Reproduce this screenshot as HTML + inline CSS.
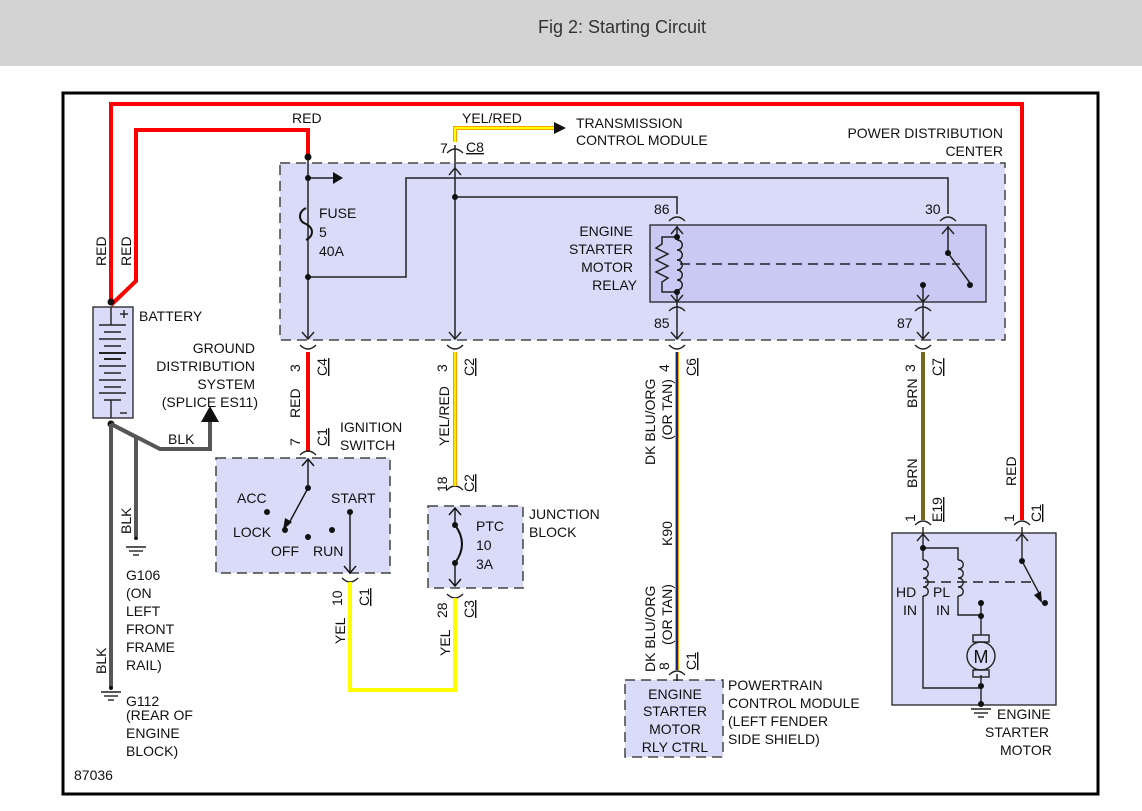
<!DOCTYPE html>
<html><head><meta charset="utf-8"><style>
body{margin:0;background:#fff;}
svg{display:block;font-family:"Liberation Sans",Arial,sans-serif;}
text{font-size:14px;fill:#111;}
</style></head><body>
<svg width="1142" height="811" viewBox="0 0 1142 811">
<rect x="0" y="0" width="1142" height="66" fill="#d3d3d3"/>
<text x="622" y="33" text-anchor="middle" style="font-size:18px;fill:#333">Fig 2: Starting Circuit</text>
<rect x="63" y="93" width="1035" height="701" fill="#fff" stroke="#000" stroke-width="3"/>

<!-- PDC -->
<rect x="280" y="163" width="725" height="177" fill="#dadaf9" stroke="#444" stroke-width="1.5" stroke-dasharray="10,6"/>
<rect x="650" y="225" width="336" height="77" fill="#c9c9f4" stroke="#222" stroke-width="1.3"/>
<text x="1003" y="138" text-anchor="end">POWER DISTRIBUTION</text>
<text x="1003" y="156" text-anchor="end">CENTER</text>

<!-- red wires -->
<g fill="none" stroke="#f00" stroke-width="4">
<polyline points="111,305 111,104 1022,104 1022,520"/>
<polyline points="111,305 136,281 136,130 308,130 308,157"/>
<line x1="308" y1="352" x2="308" y2="452"/>
</g>
<text x="292" y="123">RED</text>
<text transform="translate(106,266) rotate(-90)">RED</text>
<text transform="translate(131,266) rotate(-90)">RED</text>

<!-- YEL/RED top -->
<polyline points="455,142 455,128 554,128" fill="none" stroke="#f6a000" stroke-width="4"/>
<polyline points="455,142 455,128 554,128" fill="none" stroke="#ff0" stroke-width="2"/>
<path d="M554,122 L566,128 L554,134z" fill="#111"/>
<text x="462" y="123">YEL/RED</text>
<text x="576" y="128">TRANSMISSION</text>
<text x="576" y="145">CONTROL MODULE</text>
<text x="440" y="153">7</text>
<text x="466" y="152" style="text-decoration:underline">C8</text>

<!-- internal PDC lines -->
<g fill="none" stroke="#222" stroke-width="1.5">
<line x1="308" y1="157" x2="308" y2="338"/>
<line x1="308" y1="178" x2="333" y2="178"/>
<polyline points="308,277 406,277 406,178 948,178 948,214"/>
<line x1="455" y1="145" x2="455" y2="338"/>
<polyline points="455,197 677,197 677,214"/>
<line x1="677" y1="226" x2="677" y2="240"/>
<line x1="677" y1="290" x2="677" y2="338"/>
<line x1="923" y1="285" x2="923" y2="338"/>
<line x1="948" y1="226" x2="948" y2="253"/>
<line x1="948" y1="253" x2="970" y2="283"/>
<line x1="680" y1="264" x2="960" y2="264" stroke-dasharray="10,6"/>
<path d="M677,240 c7,0 7,10 0,10 c7,0 7,10 0,10 c7,0 7,10 0,10 c7,0 7,10 0,10 c7,0 7,10 0,10"/>
<polyline points="677,237 662,237 662,244 656,248 668,254 656,260 668,266 656,272 668,278 662,282 662,292 677,292"/>
</g>
<path d="M333,172 L343,178 L333,184z" fill="#111"/>
<path d="M306,208 c-8,4 -8,13 0,16 c8,4 8,12 0,16" fill="none" stroke="#111" stroke-width="2"/>
<g fill="#111">
<circle cx="308" cy="157" r="3.5"/><circle cx="308" cy="178" r="3"/><circle cx="308" cy="277" r="3"/>
<circle cx="455" cy="197" r="3"/><circle cx="677" cy="237" r="3"/><circle cx="677" cy="292" r="3"/>
<circle cx="948" cy="253" r="3"/><circle cx="970" cy="285" r="3"/><circle cx="923" cy="285" r="3"/>
</g>
<text x="319" y="218">FUSE</text><text x="319" y="237">5</text><text x="319" y="256">40A</text>
<text x="633" y="236" text-anchor="end">ENGINE</text>
<text x="633" y="254" text-anchor="end">STARTER</text>
<text x="633" y="272" text-anchor="end">MOTOR</text>
<text x="637" y="290" text-anchor="end">RELAY</text>
<text x="654" y="214">86</text><text x="925" y="214">30</text>
<text x="654" y="328">85</text><text x="897" y="328">87</text>

<!-- connector arcs / arrowheads -->
<g fill="none" stroke="#222" stroke-width="1.4">
<path d="M447,153 q8,-8 16,0"/>
<path d="M669,221 q8,-8 16,0"/><path d="M940,221 q8,-8 16,0"/>
<path d="M669,311 q8,-8 16,0"/><path d="M915,311 q8,-8 16,0"/>
<path d="M300,345 q8,8 16,0"/><path d="M447,345 q8,8 16,0"/><path d="M669,345 q8,8 16,0"/><path d="M915,345 q8,8 16,0"/>
<path d="M300,455 q8,-8 16,0"/><path d="M447,490 q8,-8 16,0"/>
<path d="M342,578 q8,8 16,0"/><path d="M447,594 q8,8 16,0"/>
<path d="M669,675 q8,-8 16,0"/>
<path d="M915,525 q8,-8 16,0"/><path d="M1014,525 q8,-8 16,0"/>
<path d="M302,332 l6,7 l6,-7"/><path d="M449,332 l6,7 l6,-7"/><path d="M671,332 l6,7 l6,-7"/><path d="M917,332 l6,7 l6,-7"/>
<path d="M449,175 l6,-7 l6,7"/><path d="M671,234 l6,-7 l6,7"/><path d="M942,234 l6,-7 l6,7"/>
<path d="M671,295 l6,7 l6,-7"/><path d="M917,295 l6,7 l6,-7"/>
</g>

<!-- lower wires -->
<line x1="455" y1="352" x2="455" y2="486" stroke="#f6a000" stroke-width="4"/>
<line x1="455" y1="352" x2="455" y2="486" stroke="#ff0" stroke-width="1.5"/>
<polyline points="350,582 350,690 455,690 455,598" fill="none" stroke="#ff0" stroke-width="4"/>
<line x1="677" y1="352" x2="677" y2="670" stroke="#f6a000" stroke-width="4"/>
<line x1="677" y1="352" x2="677" y2="670" stroke="#1a237e" stroke-width="2"/>
<line x1="923" y1="352" x2="923" y2="520" stroke="#7a6a2a" stroke-width="4"/>
<line x1="923" y1="352" x2="923" y2="520" stroke="#6b6b10" stroke-width="1.5"/>

<!-- connector labels -->
<text transform="translate(300,372) rotate(-90)">3</text>
<text transform="translate(327,376) rotate(-90)" style="text-decoration:underline">C4</text>
<text transform="translate(300,418) rotate(-90)">RED</text>
<text transform="translate(300,446) rotate(-90)">7</text>
<text transform="translate(327,446) rotate(-90)" style="text-decoration:underline">C1</text>
<text transform="translate(447,372) rotate(-90)">3</text>
<text transform="translate(474,376) rotate(-90)" style="text-decoration:underline">C2</text>
<text transform="translate(449,446) rotate(-90)">YEL/RED</text>
<text transform="translate(447,492) rotate(-90)">18</text>
<text transform="translate(474,492) rotate(-90)" style="text-decoration:underline">C2</text>
<text transform="translate(669,372) rotate(-90)">4</text>
<text transform="translate(696,376) rotate(-90)" style="text-decoration:underline">C6</text>
<text transform="translate(655,465) rotate(-90)">DK BLU/ORG</text>
<text transform="translate(672,440) rotate(-90)">(OR TAN)</text>
<text transform="translate(672,546) rotate(-90)">K90</text>
<text transform="translate(655,672) rotate(-90)">DK BLU/ORG</text>
<text transform="translate(672,645) rotate(-90)">(OR TAN)</text>
<text transform="translate(669,670) rotate(-90)">8</text>
<text transform="translate(696,670) rotate(-90)" style="text-decoration:underline">C1</text>
<text transform="translate(915,372) rotate(-90)">3</text>
<text transform="translate(942,376) rotate(-90)" style="text-decoration:underline">C7</text>
<text transform="translate(917,408) rotate(-90)">BRN</text>
<text transform="translate(917,488) rotate(-90)">BRN</text>
<text transform="translate(915,522) rotate(-90)">1</text>
<text transform="translate(942,522) rotate(-90)" style="text-decoration:underline">E19</text>
<text transform="translate(1016,486) rotate(-90)">RED</text>
<text transform="translate(1014,522) rotate(-90)">1</text>
<text transform="translate(1041,522) rotate(-90)" style="text-decoration:underline">C1</text>
<text transform="translate(342,606) rotate(-90)">10</text>
<text transform="translate(369,606) rotate(-90)" style="text-decoration:underline">C1</text>
<text transform="translate(345,644) rotate(-90)">YEL</text>
<text transform="translate(447,618) rotate(-90)">28</text>
<text transform="translate(474,618) rotate(-90)" style="text-decoration:underline">C3</text>
<text transform="translate(450,656) rotate(-90)">YEL</text>

<!-- ignition switch -->
<rect x="216" y="458" width="174" height="115" fill="#dadaf9" stroke="#444" stroke-width="1.5" stroke-dasharray="10,6"/>
<text x="340" y="432">IGNITION</text><text x="340" y="450">SWITCH</text>
<g stroke="#111" stroke-width="1.4" fill="none">
<line x1="308" y1="460" x2="308" y2="488"/><path d="M302,466 l6,-7 l6,7"/>
<line x1="308" y1="488" x2="288" y2="525"/>
<line x1="350" y1="512" x2="350" y2="573"/><path d="M344,566 l6,7 l6,-7"/>
</g>
<path d="M283,530 l2,-12 l7,4z" fill="#111"/>
<g fill="#111"><circle cx="308" cy="488" r="3"/><circle cx="267" cy="512" r="3"/><circle cx="285" cy="530" r="3"/><circle cx="308" cy="537" r="3"/><circle cx="332" cy="530" r="3"/><circle cx="350" cy="512" r="3"/></g>
<text x="237" y="503">ACC</text><text x="233" y="537">LOCK</text><text x="271" y="556">OFF</text><text x="313" y="556">RUN</text><text x="331" y="503">START</text>

<!-- junction block -->
<rect x="428" y="506" width="95" height="82" fill="#dadaf9" stroke="#444" stroke-width="1.5" stroke-dasharray="10,6"/>
<g stroke="#111" stroke-width="1.4" fill="none">
<line x1="455" y1="508" x2="455" y2="525"/><line x1="455" y1="563" x2="455" y2="586"/>
<path d="M449,515 l6,-7 l6,7"/><path d="M449,579 l6,7 l6,-7"/>
</g>
<path d="M455,525 q14,19 0,38" stroke="#111" stroke-width="2" fill="none"/>
<g fill="#111"><circle cx="455" cy="525" r="3"/><circle cx="455" cy="563" r="3"/></g>
<text x="476" y="531">PTC</text><text x="476" y="550">10</text><text x="476" y="569">3A</text>
<text x="529" y="519">JUNCTION</text><text x="529" y="537">BLOCK</text>

<!-- PCM -->
<rect x="625" y="680" width="98" height="77" fill="#dadaf9" stroke="#444" stroke-width="1.5" stroke-dasharray="10,6"/>
<line x1="677" y1="674" x2="677" y2="681" stroke="#111" stroke-width="1.4"/>
<text x="675" y="699" text-anchor="middle">ENGINE</text><text x="675" y="716" text-anchor="middle">STARTER</text>
<text x="675" y="734" text-anchor="middle">MOTOR</text><text x="675" y="752" text-anchor="middle">RLY CTRL</text>
<text x="728" y="690">POWERTRAIN</text><text x="728" y="708">CONTROL MODULE</text><text x="728" y="726">(LEFT FENDER</text><text x="728" y="744">SIDE SHIELD)</text>

<!-- starter motor -->
<rect x="892" y="533" width="164" height="172" fill="#dadaf9" stroke="#222" stroke-width="1.3"/>
<g stroke="#222" stroke-width="1.4" fill="none">
<line x1="923" y1="527" x2="923" y2="560"/><path d="M917,541 l6,-7 l6,7"/>
<polyline points="923,596 923,688 981,688 981,705"/>
<polyline points="923,548 958,548 958,560"/>
<polyline points="958,596 958,615 981,615 981,603"/>
<line x1="981" y1="615" x2="981" y2="635"/>
<line x1="981" y1="675" x2="981" y2="688"/>
<line x1="1022" y1="527" x2="1022" y2="561"/><path d="M1016,541 l6,-7 l6,7"/>
<line x1="1022" y1="561" x2="1040" y2="595"/>
<line x1="925" y1="582" x2="1035" y2="582" stroke-dasharray="10,6"/>
<circle cx="981" cy="656" r="14" fill="#dadaf9"/>
<rect x="973" y="635" width="16" height="7"/><rect x="973" y="670" width="16" height="7"/>
<path d="M923,560 c7,0 7,9 0,9 c7,0 7,9 0,9 c7,0 7,9 0,9 c7,0 7,9 0,9"/>
<path d="M958,560 c7,0 7,9 0,9 c7,0 7,9 0,9 c7,0 7,9 0,9 c7,0 7,9 0,9"/>
</g>
<path d="M1034,595 l8,8 l-1,-12z" fill="#111"/>
<g fill="#111"><circle cx="923" cy="548" r="3"/><circle cx="981" cy="603" r="3"/><circle cx="981" cy="616" r="3"/><circle cx="981" cy="686" r="3"/><circle cx="981" cy="704" r="3"/><circle cx="1022" cy="561" r="3"/><circle cx="1045" cy="603" r="3"/></g>
<text x="981" y="663" text-anchor="middle" style="font-size:18px">M</text>
<text x="896" y="597">HD</text><text x="903" y="615">IN</text>
<text x="933" y="597">PL</text><text x="936" y="615">IN</text>
<g stroke="#222" stroke-width="1.4"><line x1="971" y1="709" x2="991" y2="709"/><line x1="974" y1="713" x2="988" y2="713"/><line x1="978" y1="717" x2="984" y2="717"/></g>
<text x="997" y="719">ENGINE</text><text x="985" y="737">STARTER</text><text x="1000" y="755">MOTOR</text>

<!-- battery -->
<rect x="93" y="307" width="40" height="111" fill="#dadaf9" stroke="#222" stroke-width="1.3"/>
<g stroke="#222" stroke-width="1.4">
<line x1="111" y1="307" x2="111" y2="325"/><line x1="99" y1="325" x2="126" y2="325"/>
<line x1="104" y1="332" x2="121" y2="332"/><line x1="99" y1="339" x2="126" y2="339"/>
<line x1="104" y1="346" x2="121" y2="346"/><line x1="99" y1="353" x2="126" y2="353" stroke-width="2"/>
<line x1="104" y1="359" x2="121" y2="359" stroke-width="2"/><line x1="99" y1="366" x2="126" y2="366"/>
<line x1="104" y1="373" x2="121" y2="373"/><line x1="99" y1="380" x2="126" y2="380"/>
<line x1="104" y1="387" x2="121" y2="387"/><line x1="99" y1="393" x2="126" y2="393"/>
<line x1="104" y1="400" x2="121" y2="400"/><line x1="111" y1="400" x2="111" y2="418"/>
<line x1="120" y1="314" x2="128" y2="314"/><line x1="124" y1="310" x2="124" y2="318"/>
<line x1="120" y1="413" x2="127" y2="413"/>
</g>
<circle cx="111" cy="302" r="3.5" fill="#111"/><circle cx="111" cy="424" r="3.5" fill="#111"/>
<text x="139" y="321">BATTERY</text>
<text x="255" y="353" text-anchor="end">GROUND</text>
<text x="255" y="371" text-anchor="end">DISTRIBUTION</text>
<text x="255" y="389" text-anchor="end">SYSTEM</text>
<text x="258" y="407" text-anchor="end">(SPLICE ES11)</text>

<!-- BLK wires -->
<g fill="none" stroke="#555" stroke-width="4">
<polyline points="111,424 160,449 210,449 210,420"/>
<polyline points="111,424 136,437 136,536"/>
<line x1="111" y1="424" x2="111" y2="688"/>
</g>
<path d="M201,422 L210,406 L219,422z" fill="#111"/>
<text x="168" y="444">BLK</text>
<text transform="translate(131,534) rotate(-90)">BLK</text>
<text transform="translate(106,674) rotate(-90)">BLK</text>
<g stroke="#222" stroke-width="1.4">
<line x1="126" y1="547" x2="146" y2="547"/><line x1="129" y1="551" x2="143" y2="551"/><line x1="133" y1="555" x2="139" y2="555"/>
<line x1="101" y1="692" x2="121" y2="692"/><line x1="104" y1="696" x2="118" y2="696"/><line x1="108" y1="700" x2="114" y2="700"/>
</g>
<circle cx="136" cy="538" r="2" fill="#111"/><circle cx="111" cy="688" r="2" fill="#111"/>
<text x="126" y="580">G106</text><text x="126" y="598">(ON</text><text x="126" y="616">LEFT</text><text x="126" y="634">FRONT</text><text x="126" y="652">FRAME</text><text x="126" y="670">RAIL)</text>
<text x="126" y="706">G112</text><text x="126" y="720">(REAR OF</text><text x="126" y="738">ENGINE</text><text x="126" y="756">BLOCK)</text>
<text x="74" y="780">87036</text>
</svg>
</body></html>
